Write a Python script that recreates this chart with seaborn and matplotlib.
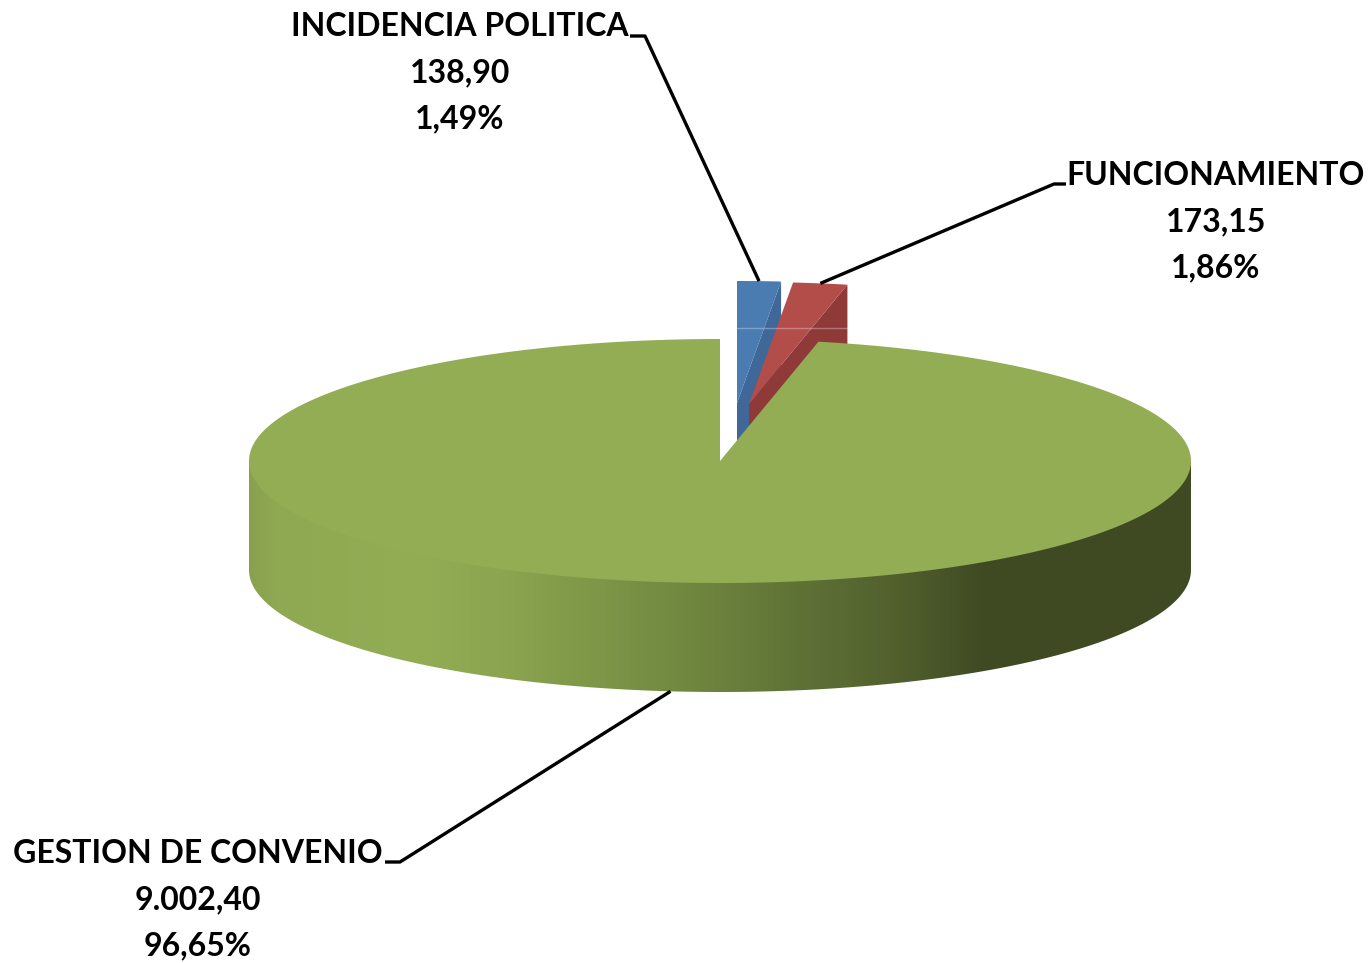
import numpy as np
import matplotlib
matplotlib.use("Agg")
import matplotlib.pyplot as plt
from matplotlib.colors import LinearSegmentedColormap, to_rgb
from matplotlib.patches import Polygon
import seaborn as sns

# ---- data ----
categories = ["INCIDENCIA POLITICA", "FUNCIONAMIENTO", "GESTION DE CONVENIO"]
values = [138.90, 173.15, 9002.40]
value_labels = ["138,90", "173,15", "9.002,40"]
percent_labels = ["1,49%", "1,86%", "96,65%"]

# ---- style ----
sns.set_theme(style="white")
plt.rcParams["font.family"] = ["Lato", "DejaVu Sans"]
top_colors = sns.color_palette(["#4A7BB1", "#B24D4A", "#92AD54"])
cut_colors = sns.color_palette(["#3F6898", "#8F3A38", "#92AD54"])
wall_stops = [(249, "#8AA04F"), (275, "#8FA952"), (420, "#92AD54"), (500, "#8BA550"),
              (600, "#7D9647"), (690, "#70873F"), (800, "#5F7236"), (900, "#515F2D"),
              (985, "#3F4A23"), (1191, "#3F4A23")]

CX, CY, RX, RY, DEPTH = 720, 461, 471, 122, 109
explode = [(17, -58), (29, -57), (0, 0)]
label_pos = [(460, 72.5), (1216, 221.5), (198, 899.5)]
elbows = [[(630, 36), (645, 36)], [(1066, 184), (1054, 184)], [(385, 862), (400, 862)]]

fig = plt.figure(figsize=(13.71, 9.63), dpi=100)
ax = fig.add_axes([0, 0, 1, 1])


def rim(theta_deg, dx=0, dy=0, down=0):
    t = np.radians(theta_deg)
    return np.column_stack([CX + dx + RX * np.sin(t), CY + dy + down - RY * np.cos(t)])


edges = np.concatenate([[0], np.cumsum(values) / np.sum(values) * 360])

# exploded back slices, drawn first so the big slice hides them
for i in (0, 1):
    dx, dy = explode[i]
    a0, a1 = edges[i], edges[i + 1]
    apex = np.array([[CX + dx, CY + dy]])
    arc = rim(np.linspace(a0, a1, 30), dx, dy)
    cut = np.vstack([apex, rim(a1, dx, dy), rim(a1, dx, dy, DEPTH), apex + [0, DEPTH]])
    ax.add_patch(Polygon(cut, closed=True, fc=cut_colors[i], ec="none", zorder=1 + i))
    ax.add_patch(Polygon(np.vstack([apex, arc]), closed=True, fc=top_colors[i], ec="none", zorder=1 + i))

# faint seam across the exploded slices
ax.plot([CX + explode[0][0], rim(edges[2], *explode[1])[0, 0]], [328, 328],
        color="white", alpha=0.3, lw=1, zorder=3)

# front wall of the big slice, with its horizontal shading (runs under the top face)
front = np.linspace(90, 270, 300)
wall = np.vstack([rim(front, down=-4), rim(front[::-1], down=DEPTH)])
x0, x1 = wall_stops[0][0], wall_stops[-1][0]
cmap = LinearSegmentedColormap.from_list(
    "wall", [((x - x0) / (x1 - x0), to_rgb(c)) for x, c in wall_stops], N=512)
img = ax.imshow(np.linspace(0, 1, 1024)[None, :], cmap=cmap, aspect="auto",
                extent=(x0, x1, CY + RY + DEPTH + 2, CY - 10), zorder=4, interpolation="bilinear")
clip = Polygon(wall, closed=True, transform=ax.transData, fc="none", ec="none")
ax.add_patch(clip)
img.set_clip_path(clip)

# top of the big slice
arc = rim(np.linspace(edges[2], 360, 720))
ax.add_patch(Polygon(np.vstack([[[CX, CY]], arc]), closed=True, fc=top_colors[2], ec="none", zorder=5))

# leader lines and labels
anchors = []
for i in range(3):
    dx, dy = explode[i]
    mid = (edges[i] + edges[i + 1]) / 2
    down = DEPTH if i == 2 else 0
    anchors.append(rim(mid, dx, dy, down)[0])
for i, cat in enumerate(categories):
    pts = np.vstack([elbows[i], anchors[i]])
    ax.plot(pts[:, 0], pts[:, 1], color="black", lw=2.4, zorder=6, solid_capstyle="butt")
    ax.text(*label_pos[i], f"{cat}\n{value_labels[i]}\n{percent_labels[i]}",
            ha="center", va="center", ma="center", fontsize=23, fontweight="bold",
            color="black", linespacing=1.72, zorder=7)

ax.set_xlim(0, 1371)
ax.set_ylim(963, 0)
ax.axis("off")
fig.savefig("out.png", dpi=100, facecolor="white")
